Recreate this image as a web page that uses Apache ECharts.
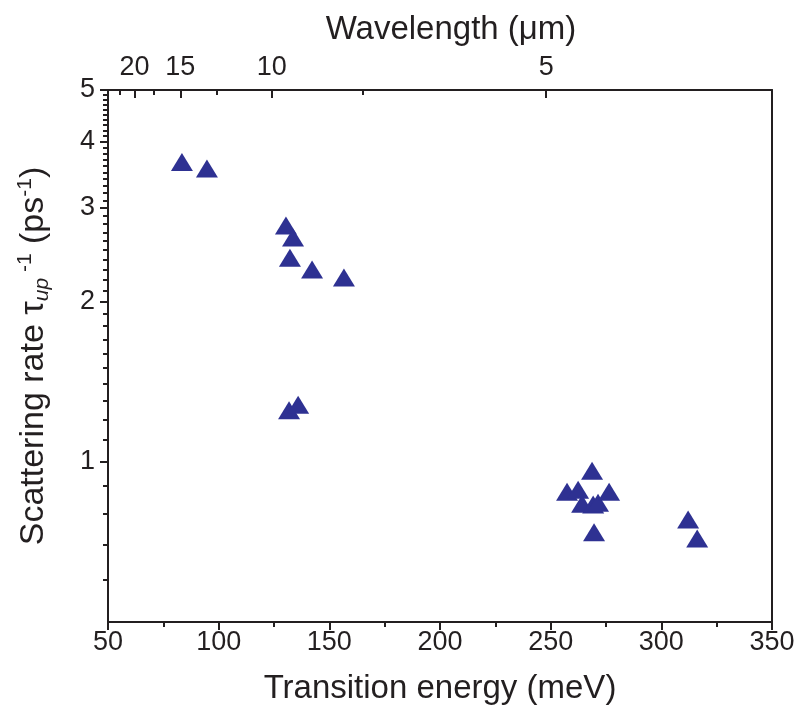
<!DOCTYPE html>
<html>
<head>
<meta charset="utf-8">
<script src="https://cdn.jsdelivr.net/npm/echarts@6/dist/echarts.min.js"></script>
<style>html,body{margin:0;padding:0;background:#fff;}#chart{width:804px;height:720px;}</style>
</head>
<body>
<div id="chart"></div>
<script>
// Data
var energy = [83.4, 94.7, 130.4, 133.6, 132.2, 142.2, 156.6, 131.8, 135.9,
              268.7, 257.4, 262.4, 264.2, 269.2, 271.4, 276.4, 269.6, 312.1, 316.2];
var rate   = [3.66, 3.56, 2.78, 2.64, 2.42, 2.30, 2.22, 1.25, 1.28,
              0.962, 0.879, 0.886, 0.834, 0.831, 0.838, 0.879, 0.737, 0.779, 0.718];
// Axis tick values
var xMajorTicks = [50, 100, 150, 200, 250, 300, 350];
var yMajorTicks = [1, 2, 3, 4, 5];
var yMinorTicks = [0.6, 0.7, 0.8, 0.9,
  1.1, 1.2, 1.3, 1.4, 1.5, 1.6, 1.7, 1.8, 1.9,
  2.1, 2.2, 2.3, 2.4, 2.5, 2.6, 2.7, 2.8, 2.9,
  3.1, 3.2, 3.3, 3.4, 3.5, 3.6, 3.7, 3.8, 3.9,
  4.1, 4.2, 4.3, 4.4, 4.5, 4.6, 4.7, 4.8, 4.9];
var wlMajor = [20, 15, 10, 5];
var wlMinor = [22.5, 17.5, 12.5, 7.5];
var HC = 1239.84; // meV * um

var FONT = 'Liberation Sans';
var C = '#231f20';
var TICK_FS = 27, TITLE_FS = 33;
var points = energy.map(function (e, i) { return [e, rate[i]]; });
var eMajor = wlMajor.map(function (w) { return HC / w; });
var eMinor = wlMinor.map(function (w) { return HC / w; });

var chart = echarts.init(document.getElementById('chart'), null, {renderer: 'canvas'});
chart.setOption({
  animation: false,
  backgroundColor: '#fff',
  grid: {left: 108, right: 32, top: 90, bottom: 98, containLabel: false},
  xAxis: [
    {
      type: 'value', position: 'bottom', min: 50, max: 350, interval: 50,
      name: 'Transition energy (meV)', nameLocation: 'middle', nameGap: 50,
      nameTextStyle: {fontFamily: FONT, fontSize: TITLE_FS, color: C},
      axisLine: {show: true, lineStyle: {color: C, width: 2}},
      axisTick: {show: true, inside: false, length: 8, lineStyle: {color: C, width: 2}},
      minorTick: {show: true, splitNumber: 2, length: 5, lineStyle: {color: C, width: 2}},
      axisLabel: {fontFamily: FONT, fontSize: TICK_FS, color: C, margin: 7},
      splitLine: {show: false}
    },
    {
      type: 'value', position: 'top', min: 50, max: 350,
      name: 'Wavelength (\u03bcm)', nameLocation: 'middle', nameGap: 44,
      nameTextStyle: {fontFamily: FONT, fontSize: TITLE_FS, color: C, padding: [0, 0, 0, 22]},
      axisLine: {show: true, lineStyle: {color: C, width: 2}},
      axisTick: {show: true, inside: true, length: 8, customValues: eMajor, lineStyle: {color: C, width: 2}},
      axisLabel: {show: true, fontFamily: FONT, fontSize: TICK_FS, color: C, margin: 9, customValues: eMajor,
        formatter: function (v) { return String(Math.round(HC / v * 2) / 2); }},
      splitLine: {show: false}
    },
    {
      type: 'value', position: 'top', min: 50, max: 350,
      axisLine: {show: false},
      axisTick: {show: true, inside: true, length: 5, customValues: eMinor, lineStyle: {color: C, width: 2}},
      axisLabel: {show: false},
      splitLine: {show: false}
    }
  ],
  yAxis: [
    {
      type: 'log', logBase: 10, position: 'left', min: 0.5, max: 5,
      name: 'Scattering rate \u03c4{sub|up}{sup| -1} (ps{sup|-1})',
      nameLocation: 'middle', nameRotate: 90, nameGap: 55,
      nameTextStyle: {fontFamily: FONT, fontSize: 34, color: C, lineHeight: 38,
        rich: {
          sub: {fontFamily: FONT, fontSize: 21, fontStyle: 'italic', color: C, verticalAlign: 'bottom', lineHeight: 21},
          sup: {fontFamily: FONT, fontSize: 21, color: C, verticalAlign: 'top', lineHeight: 21}
        }},
      axisLine: {show: true, lineStyle: {color: C, width: 2}},
      axisTick: {show: true, inside: false, length: 8, customValues: yMajorTicks, lineStyle: {color: C, width: 2}},
      axisLabel: {fontFamily: FONT, fontSize: TICK_FS, color: C, margin: 13, customValues: yMajorTicks},
      splitLine: {show: false}
    },
    {
      type: 'log', logBase: 10, position: 'left', min: 0.5, max: 5,
      axisLine: {show: false},
      axisTick: {show: true, inside: false, length: 5, customValues: yMinorTicks, lineStyle: {color: C, width: 2}},
      axisLabel: {show: false},
      splitLine: {show: false}
    },
    {
      type: 'log', logBase: 10, position: 'right', min: 0.5, max: 5,
      axisLine: {show: true, lineStyle: {color: C, width: 2}},
      axisTick: {show: false}, axisLabel: {show: false}, splitLine: {show: false}
    }
  ],
  series: [{
    type: 'scatter', xAxisIndex: 0, yAxisIndex: 0,
    symbol: 'triangle', symbolSize: [22, 18],
    itemStyle: {color: '#2e3192', opacity: 1},
    data: points
  }]
});
</script>
</body>
</html>
